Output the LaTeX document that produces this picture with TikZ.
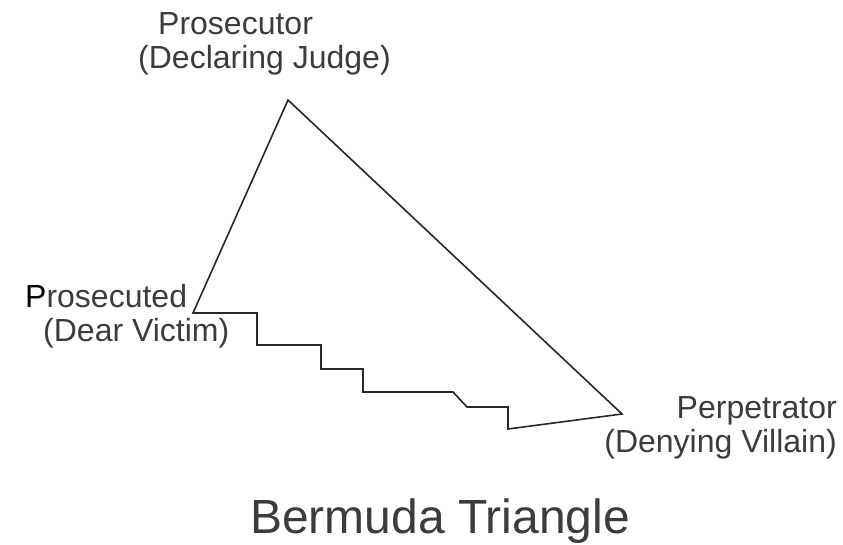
\documentclass[tikz,border=0pt]{standalone}
\usepackage{fontspec}
\setmainfont{Liberation Sans}
\usetikzlibrary{positioning}
\definecolor{ink}{RGB}{60,60,60}
\definecolor{edge}{RGB}{40,40,40}
\tikzset{
  role/.style={font=\fontsize{32}{34}\selectfont, text=ink, inner sep=0pt},
  title/.style={font=\fontsize{48}{52}\selectfont, text=ink, inner sep=0pt},
  side/.style={draw=edge, line width=1.6pt, line join=miter},
}
\begin{document}
\begin{tikzpicture}[x=1pt, y=-1pt]
  \useasboundingbox (0,0) rectangle (843,544);
  % corners of the triangle
  \coordinate (judge) at (288,100);
  \coordinate (victim) at (193,313);
  \coordinate (villain) at (622,414);

  % the three roles (anchored on their second line)
  \node[role, align=left, anchor=base west] (prosecutor) at (138,68)
    {\hspace*{20pt}Prosecutor\\(Declaring Judge)};
  \node[role, align=left, anchor=base west] (prosecuted) at (25,341)
    {\textcolor{black}{P}rosecuted\\\hspace*{18pt}(Dear Victim)};
  \node[role, align=right, anchor=base east] (perpetrator) at (837,452)
    {Perpetrator\\(Denying Villain)};

  % triangle with the stepped lower side
  \draw[side] (victim) -| (257,345) -| (321,369) -| (363,392)
    -- (453,392) -- (467,407) -| (508,429) -- (villain) -- (judge) -- cycle;

  % caption
  \node[title, anchor=base] (caption) at (440,533) {Bermuda Triangle};
\end{tikzpicture}
\end{document}
